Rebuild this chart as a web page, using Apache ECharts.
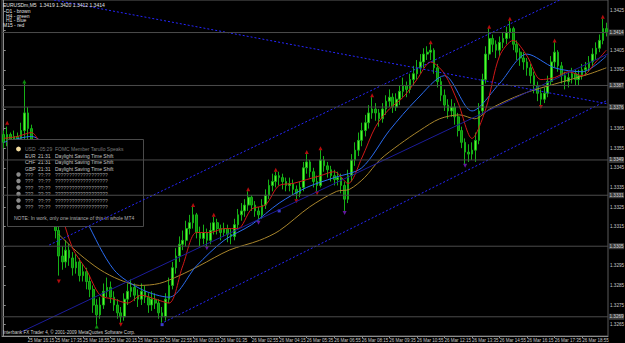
<!DOCTYPE html>
<html><head><meta charset="utf-8">
<script src="https://cdn.jsdelivr.net/npm/echarts@6.0.0/dist/echarts.min.js"></script>
<style>html,body{margin:0;padding:0;background:#000;}#c{width:625px;height:343px;}</style>
</head><body><div id="c"></div>
<script>
// ---- candle data (EURUSDm, 10-minute buckets) ----
const opens = [
1.3362,1.3358,1.3362,1.3359,1.3361,1.3360,1.3364,1.3373,1.3365,1.3357,
1.3351,1.3346,1.3343,1.3336,1.3331,1.3323,1.3313,1.3300,1.3297,1.3303,
1.3299,1.3294,1.3297,1.3290,1.3292,1.3287,1.3283,1.3275,1.3270,1.3275,
1.3282,1.3284,1.3279,1.3275,1.3271,1.3269,1.3278,1.3282,1.3284,1.3280,
1.3278,1.3282,1.3279,1.3275,1.3278,1.3276,1.3271,1.3269,1.3278,1.3285,
1.3294,1.3300,1.3306,1.3308,1.3314,1.3317,1.3321,1.3312,1.3309,1.3312,
1.3308,1.3313,1.3317,1.3314,1.3312,1.3314,1.3311,1.3310,1.3316,1.3321,
1.3323,1.3326,1.3330,1.3326,1.3323,1.3321,1.3326,1.3331,1.3336,1.3338,
1.3341,1.3340,1.3338,1.3336,1.3337,1.3334,1.3332,1.3335,1.3345,1.3348,
1.3343,1.3338,1.3336,1.3349,1.3346,1.3344,1.3341,1.3339,1.3340,1.3336,
1.3329,1.3341,1.3349,1.3354,1.3359,1.3364,1.3368,1.3373,1.3375,1.3373,
1.3370,1.3375,1.3379,1.3381,1.3376,1.3380,1.3384,1.3387,1.3385,1.3390,
1.3393,1.3396,1.3399,1.3403,1.3404,1.3405,1.3396,1.3389,1.3382,1.3377,
1.3374,1.3376,1.3371,1.3364,1.3358,1.3353,1.3352,1.3354,1.3359,1.3374,
1.3390,1.3403,1.3411,1.3408,1.3405,1.3409,1.3411,1.3414,1.3416,1.3408,
1.3404,1.3401,1.3399,1.3396,1.3392,1.3387,1.3383,1.3380,1.3383,1.3389,
1.3399,1.3404,1.3397,1.3392,1.3389,1.3391,1.3393,1.3390,1.3392,1.3395,
1.3396,1.3399,1.3403,1.3406,1.3410,1.3416];
const closes = [
1.3358,1.3362,1.3359,1.3361,1.3360,1.3364,1.3373,1.3365,1.3357,1.3351,
1.3346,1.3343,1.3336,1.3331,1.3323,1.3313,1.3300,1.3297,1.3303,1.3299,
1.3294,1.3297,1.3290,1.3292,1.3287,1.3283,1.3275,1.3270,1.3275,1.3282,
1.3284,1.3279,1.3275,1.3271,1.3269,1.3278,1.3282,1.3284,1.3280,1.3278,
1.3282,1.3279,1.3275,1.3278,1.3276,1.3271,1.3269,1.3278,1.3285,1.3294,
1.3300,1.3306,1.3308,1.3314,1.3317,1.3321,1.3312,1.3309,1.3312,1.3308,
1.3313,1.3317,1.3314,1.3312,1.3314,1.3311,1.3310,1.3316,1.3321,1.3323,
1.3326,1.3330,1.3326,1.3323,1.3321,1.3326,1.3331,1.3336,1.3338,1.3341,
1.3340,1.3338,1.3336,1.3337,1.3334,1.3332,1.3335,1.3345,1.3348,1.3343,
1.3338,1.3336,1.3349,1.3346,1.3344,1.3341,1.3339,1.3340,1.3336,1.3329,
1.3341,1.3349,1.3354,1.3359,1.3364,1.3368,1.3373,1.3375,1.3373,1.3370,
1.3375,1.3379,1.3381,1.3376,1.3380,1.3384,1.3387,1.3385,1.3390,1.3393,
1.3396,1.3399,1.3403,1.3404,1.3405,1.3396,1.3389,1.3382,1.3377,1.3374,
1.3376,1.3371,1.3364,1.3358,1.3353,1.3352,1.3354,1.3359,1.3374,1.3390,
1.3403,1.3411,1.3408,1.3405,1.3409,1.3411,1.3414,1.3416,1.3408,1.3404,
1.3401,1.3399,1.3396,1.3392,1.3387,1.3383,1.3380,1.3383,1.3389,1.3399,
1.3404,1.3397,1.3392,1.3389,1.3391,1.3393,1.3390,1.3392,1.3395,1.3396,
1.3399,1.3403,1.3406,1.3410,1.3416,1.3414];
const highs = [
1.3364,1.3366,1.3363,1.3364,1.3363,1.3368,1.3388,1.3376,1.3367,1.3359,
1.3354,1.3349,1.3345,1.3339,1.3333,1.3325,1.3315,1.3305,1.3308,1.3306,
1.3302,1.3301,1.3299,1.3296,1.3294,1.3290,1.3285,1.3278,1.3279,1.3286,
1.3289,1.3287,1.3282,1.3278,1.3274,1.3281,1.3286,1.3288,1.3286,1.3283,
1.3286,1.3285,1.3281,1.3282,1.3281,1.3278,1.3274,1.3281,1.3289,1.3297,
1.3304,1.3310,1.3313,1.3318,1.3321,1.3325,1.3322,1.3315,1.3316,1.3314,
1.3317,1.3320,1.3319,1.3316,1.3317,1.3316,1.3314,1.3319,1.3324,1.3327,
1.3329,1.3333,1.3331,1.3328,1.3325,1.3329,1.3334,1.3339,1.3342,1.3343,
1.3343,1.3342,1.3340,1.3340,1.3339,1.3336,1.3338,1.3348,1.3352,1.3349,
1.3345,1.3341,1.3354,1.3351,1.3348,1.3346,1.3344,1.3343,1.3342,1.3338,
1.3344,1.3352,1.3358,1.3363,1.3368,1.3372,1.3377,1.3381,1.3378,1.3375,
1.3378,1.3382,1.3385,1.3383,1.3383,1.3387,1.3391,1.3389,1.3393,1.3397,
1.3400,1.3403,1.3406,1.3407,1.3408,1.3406,1.3398,1.3391,1.3385,1.3380,
1.3380,1.3378,1.3373,1.3366,1.3360,1.3357,1.3358,1.3363,1.3378,1.3393,
1.3407,1.3416,1.3413,1.3410,1.3412,1.3414,1.3417,1.3420,1.3417,1.3410,
1.3406,1.3404,1.3401,1.3398,1.3394,1.3389,1.3385,1.3386,1.3392,1.3402,
1.3409,1.3405,1.3399,1.3394,1.3394,1.3396,1.3395,1.3395,1.3398,1.3399,
1.3402,1.3406,1.3409,1.3413,1.3421,1.3419];
const lows = [
1.3355,1.3356,1.3355,1.3356,1.3356,1.3358,1.3359,1.3358,1.3353,1.3348,
1.3343,1.3339,1.3333,1.3327,1.3319,1.3309,1.3290,1.3293,1.3294,1.3295,
1.3290,1.3291,1.3287,1.3287,1.3283,1.3279,1.3271,1.3265,1.3268,1.3273,
1.3279,1.3276,1.3272,1.3268,1.3266,1.3267,1.3275,1.3279,1.3277,1.3274,
1.3275,1.3276,1.3271,1.3272,1.3273,1.3268,1.3266,1.3267,1.3276,1.3283,
1.3291,1.3297,1.3303,1.3305,1.3311,1.3314,1.3309,1.3305,1.3306,1.3305,
1.3306,1.3311,1.3311,1.3308,1.3310,1.3307,1.3306,1.3308,1.3314,1.3318,
1.3320,1.3323,1.3323,1.3320,1.3318,1.3319,1.3324,1.3329,1.3333,1.3335,
1.3336,1.3334,1.3333,1.3333,1.3331,1.3329,1.3330,1.3333,1.3342,1.3340,
1.3335,1.3333,1.3335,1.3343,1.3340,1.3338,1.3336,1.3336,1.3332,1.3323,
1.3327,1.3338,1.3346,1.3351,1.3356,1.3361,1.3365,1.3370,1.3369,1.3366,
1.3368,1.3372,1.3376,1.3373,1.3374,1.3377,1.3381,1.3381,1.3383,1.3387,
1.3390,1.3393,1.3396,1.3400,1.3400,1.3393,1.3386,1.3379,1.3374,1.3370,
1.3371,1.3367,1.3361,1.3355,1.3347,1.3348,1.3349,1.3348,1.3357,1.3372,
1.3388,1.3400,1.3404,1.3401,1.3402,1.3406,1.3408,1.3411,1.3405,1.3400,
1.3397,1.3395,1.3392,1.3388,1.3383,1.3379,1.3377,1.3378,1.3381,1.3387,
1.3396,1.3394,1.3388,1.3385,1.3386,1.3388,1.3387,1.3387,1.3390,1.3392,
1.3394,1.3397,1.3400,1.3404,1.3408,1.3412];

// ---- moving averages: [bar index, price] ----
const maM15 = [[0,1.3360],[4,1.3361],[8,1.3363],[12,1.3350],[16,1.3326],[20,1.3304],[24,1.3293],[28,1.3280],[32,1.3278],[36,1.3276],[40,1.3280],[44,1.3278],[48,1.3276],[52,1.3295],[56,1.3312],[60,1.3312],[64,1.3314],[68,1.3314],[72,1.3324],[76,1.3326],[80,1.3336],[84,1.3337],[88,1.3339],[92,1.3341],[96,1.3343],[100,1.3337],[104,1.3350],[108,1.3366],[112,1.3375],[116,1.3381],[120,1.3390],[124,1.3399],[128,1.3393],[132,1.3378],[136,1.3360],[140,1.3375],[144,1.3402],[148,1.3410],[152,1.3402],[156,1.3390],[160,1.3391],[164,1.3394],[168,1.3392],[172,1.3399],[175,1.3405]];
const maH1 = [[0,1.3358],[8,1.3361],[16,1.3347],[24,1.3318],[32,1.3293],[40,1.3283],[48,1.3279],[56,1.3295],[64,1.3308],[72,1.3316],[80,1.3327],[88,1.3335],[96,1.3340],[104,1.3345],[112,1.3364],[120,1.3380],[128,1.3392],[136,1.3374],[144,1.3388],[152,1.3403],[160,1.3396],[168,1.3394],[175,1.3402]];
const maD1 = [[16,1.3311],[22,1.3301],[28,1.3293],[33.5,1.3288],[39.4,1.3285],[45.2,1.3286],[51,1.3290],[56.8,1.3295],[65.5,1.3303],[74.3,1.3308],[80.1,1.3313],[88.8,1.3325],[96.7,1.3333],[100.4,1.3334],[104.8,1.3340],[109.2,1.3349],[115,1.3357],[120.8,1.3364],[126.6,1.3370],[132.4,1.3372],[136.8,1.3370],[141.2,1.3375],[147,1.3380],[152.8,1.3384],[158.6,1.3387],[164.5,1.3390],[170.3,1.3393],[175,1.3396]];

// ---- fractal marks [bar index, price] ----
const redHighMarks = [[1,1.3368],[55,1.3326],[61,1.3321],[71,1.3334],[79,1.3344],[88,1.3353],[92,1.3355],[107,1.3382],[124,1.3409],[141,1.3417],[147,1.3421],[160,1.3410],[174,1.3422]];
const redLowMarks = [[16,1.3287],[34,1.3265],[85,1.3328],[91,1.3332],[156,1.3376]];
const purpleLowMarks = [[59,1.3304],[74,1.3317],[99,1.3322],[134,1.3346]];
const greenMarks = [[6,1.3389],[27,1.3264]];
const blueMarks = [[46,1.3265],[80,1.3323]];

// ---- drawn objects ----
const trendDescending = [[14.6,1.34306],[175.5,1.33776]];
const trendUpper = [[13.2,1.33056],[161.5,1.34306]];
const trendMiddle = [[5.0,1.32612],[175.5,1.34031]];
const trendLower = [[46.6,1.32663],[175.5,1.33796]];
const levelLines = [1.3414,1.3387,1.3376,1.3349,1.3331,1.3305,1.3269];

// ---- axis ticks / labels ----
const priceTicks = [1.3265,1.3275,1.3285,1.3295,1.3305,1.3315,1.3325,1.3335,1.3345,1.3355,1.3365,1.3375,1.3385,1.3395,1.3405,1.3415,1.3425];
// tick labels that stay visible (the others are covered by the level-line price boxes)
const priceLabels = [1.3265,1.3275,1.3285,1.3295,1.3315,1.3325,1.3335,1.3345,1.3355,1.3365,1.3395,1.3405,1.3425];
const timeLabels = ["25 Mar 2010","25 Mar 16:15","25 Mar 17:35","25 Mar 18:55","25 Mar 20:15","25 Mar 21:35","25 Mar 22:55","26 Mar 00:15","26 Mar 01:35","26 Mar 02:55","26 Mar 04:15","26 Mar 05:35","26 Mar 06:55","26 Mar 08:15","26 Mar 09:35","26 Mar 10:55","26 Mar 12:15","26 Mar 13:35","26 Mar 14:55","26 Mar 16:15","26 Mar 17:35","26 Mar 18:55"];
const labelBars = [0,7,15,23,31,39,47,55,63,72,80,88,96,104,112,120,128,136,144,152,160,168];

const headerText = "EURUSDm,M5  1.3419 1.3420 1.3412 1.3414";
const legendRows = ["D1 - brown","H4 - green","H1 - blue","M15 - red"];
const newsRows = [
  ["USD","-05:29","FOMC Member Tarullo Speaks"],
  ["EUR","21:31","Daylight Saving Time Shift"],
  ["CHF","21:31","Daylight Saving Time Shift"],
  ["GBP","21:31","Daylight Saving Time Shift"],
  ["???","??:??","???????????????????"],
  ["???","??:??","???????????????????"],
  ["???","??:??","???????????????????"],
  ["???","??:??","???????????????????"],
  ["???","??:??","???????????????????"],
  ["???","??:??","???????????????????"]
];
const noteText = "NOTE: In work, only one instance of this in whole MT4";
const copyright = "Interbank FX Trader 4, \u00a9 2001-2009 MetaQuotes Software Corp.";

const N = closes.length;
const cats = closes.map((_, i) => String(i));
const candleData = closes.map((c, i) => [opens[i], c, lows[i], highs[i]]);
const FF = '"Liberation Sans", Arial, sans-serif';
const isLabel = (i) => labelBars.indexOf(i) >= 0;

const chart = echarts.init(document.getElementById('c'), null, {renderer: 'svg'});

function trend(data, dashed, color) {
  return {type:'line', xAxisIndex:1, data, symbol:'none', silent:true, z:10, clip:true,
    lineStyle:{color, width:1, type: dashed ? [2,2] : 'solid'}};
}
function ma(data, color) {
  return {type:'line', xAxisIndex:1, data, symbol:'none', smooth:0.3, silent:true, z:3,
    lineStyle:{color, width:1}};
}
function marks(data, color, rot, sym) {
  return {type:'scatter', xAxisIndex:1, data, symbol: sym || 'triangle', symbolSize: sym ? 3 : 4,
    symbolRotate: rot, itemStyle:{color}, silent:true, z:4};
}
function level(v) {
  return {type:'line', xAxisIndex:1, data:[[-0.5, v],[N-0.5, v]], symbol:'none', silent:true, z:12,
    lineStyle:{color:'#4c4c4c', width:1},
    endLabel:{show:true, distance:1, formatter:(p)=>Number(p.value[1]).toFixed(4),
      fontSize:4.6, color:'#d4d4d4', backgroundColor:'#3a3a3a', padding:[0.5,0.5,0.5,0.5], fontFamily:FF}};
}

// panel graphic
const panel = [];
panel.push({type:'rect', z:5, shape:{x:7.5, y:139.5, width:136, height:87}, style:{fill:'#000', stroke:'#4a4a4a', lineWidth:1}});
const rowY = [149,155.5,162,168.5,174.5,181,187.5,194,200.5,207];
newsRows.forEach((r, k) => {
  const dim = k === 0 ? '#7a7a7a' : (k < 4 ? '#c4c4c4' : '#9a9a9a');
  if (k === 0) panel.push({type:'circle', z:6, shape:{cx:18.5, cy:rowY[k], r:2.4}, style:{fill:'#f3dca0'}});
  if (k >= 4) panel.push({type:'circle', z:6, shape:{cx:18.5, cy:rowY[k], r:2.2}, style:{fill:'#8a8a8a'}});
  [[25, r[0]], [38, r[1]], [55, r[2]]].forEach(([x, t]) => {
    panel.push({type:'text', z:6, x, y:rowY[k], style:{text:t, fill:dim, fontSize:5, fontFamily:FF, verticalAlign:'middle', align:'left'}});
  });
});
panel.push({type:'text', z:6, x:14, y:218, style:{text:noteText, fill:'#b0b0b0', fontSize:5, fontFamily:FF, verticalAlign:'middle', align:'left'}});

const hdr = [];
hdr.push({type:'text', z:20, x:3, y:4.5, style:{text:headerText, fill:'#e0e0e0', fontSize:5, fontFamily:FF, verticalAlign:'middle'}});
const legX = [6,6,6,3];
const legY = [10.5,15.5,20,24.5];
legendRows.forEach((t, k) => hdr.push({type:'text', z:20, x:legX[k], y:legY[k], style:{text:t, fill:'#e0e0e0', fontSize:5, fontFamily:FF, verticalAlign:'middle'}}));
hdr.push({type:'text', z:20, x:3, y:332.5, style:{text:copyright, fill:'#d0d0d0', fontSize:4.6, fontFamily:FF, verticalAlign:'middle'}});

const option = {
  backgroundColor: '#000',
  animation: false,
  grid: {left:2, right:17, top:0, height:336, containLabel:false, outerBoundsMode:'none',
    show:true, borderColor:'#5a5a5a', borderWidth:1, backgroundColor:'transparent'},
  xAxis: [
    {type:'category', data:cats, boundaryGap:true,
     axisLine:{show:true, lineStyle:{color:'#8c8c8c', width:1}},
     axisTick:{show:true, interval:(i)=>isLabel(i), alignWithLabel:true, length:2, lineStyle:{color:'#8c8c8c'}},
     axisLabel:{show:true, interval:(i)=>isLabel(i), formatter:(v, i)=>{const k = labelBars.indexOf(Number(v)); return k >= 0 ? timeLabels[k] : '';},
       align:'left', fontSize:4.5, color:'#c8c8c8', margin:2, fontFamily:FF},
     splitLine:{show:false}},
    {type:'value', min:-0.5, max:N-0.5, show:false, splitLine:{show:false}}
  ],
  yAxis: {type:'value', position:'right', min:1.32592, max:1.34306,
    axisLine:{show:true, lineStyle:{color:'#8c8c8c', width:1}},
    axisTick:{show:true, customValues:priceTicks, length:2, lineStyle:{color:'#8c8c8c'}},
    axisLabel:{show:true, customValues:priceLabels, formatter:(v)=>Number(v).toFixed(4), fontSize:4.6, color:'#c8c8c8', margin:2, fontFamily:FF},
    splitLine:{show:false}},
  graphic: {elements: panel.concat(hdr)},
  series: [
    {type:'candlestick', data:candleData, barWidth:'62%', z:2, silent:true,
     itemStyle:{color:'#5cf52e', color0:'#0b8f0b', borderColor:'#16b016', borderColor0:'#16b016', borderWidth:1}},
    ma(maD1, '#a8852c'),
    ma(maH1, '#2a6cf0'),
    ma(maM15, '#d01818'),
    marks(redHighMarks, '#e01010', 0),
    marks(redLowMarks, '#e01010', 180),
    marks(purpleLowMarks, '#7a1fc8', 180),
    marks(greenMarks, '#10b010', 0),
    marks(blueMarks, '#4a4aff', 0, 'rect'),
    trend(trendDescending, true, '#2626ff'),
    trend(trendUpper, true, '#2626ff'),
    trend(trendMiddle, false, '#1c1c9a'),
    trend(trendLower, true, '#2626ff')
  ].concat(levelLines.map(level))
};
chart.setOption(option);
</script></body></html>
